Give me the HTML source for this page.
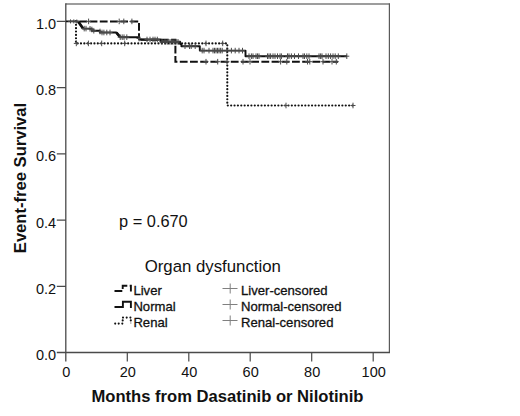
<!DOCTYPE html>
<html><head><meta charset="utf-8"><style>
html,body{margin:0;padding:0;background:#fff;}
body{width:520px;height:416px;position:relative;overflow:hidden;font-family:"Liberation Sans",sans-serif;color:#111;}
.t{position:absolute;white-space:nowrap;line-height:1;}
.yt{font-size:14.5px;width:30px;text-align:right;left:26.1px;}
.xt{font-size:14.5px;width:40px;text-align:center;top:365px;}
.lg{font-size:13.1px;-webkit-text-stroke:0.3px #111;}
</style></head><body>
<svg width="520" height="416" viewBox="0 0 520 416" style="position:absolute;left:0;top:0">
<path d="M65.8 4 H389.4" stroke="#7d7d7d" stroke-width="1.5" fill="none"/>
<path d="M389.4 3.2 V352.5" stroke="#5a5a5a" stroke-width="1.2" fill="none"/>
<path d="M65.8 3.2 V361.5 M56.8 352.5 H390" stroke="#4a4a4a" stroke-width="1.3" fill="none"/>
<path d="M56.8 286.3 H66 M56.8 220.1 H66 M56.8 153.8 H66 M56.8 87.6 H66 M56.8 21.4 H66 M127.3 352.5 V361.5 M188.8 352.5 V361.5 M250.2 352.5 V361.5 M311.7 352.5 V361.5 M373.2 352.5 V361.5" stroke="#4a4a4a" stroke-width="1.2" fill="none"/>
<path d="M76 21.4 V43.4 H227.3 V105.5 H353" stroke="#111" stroke-width="2.2" stroke-linecap="round" stroke-dasharray="0.01 3.36" fill="none"/>
<path d="M73.8 43.4 h5.0 M76.3 40.6 v5.6 M85.9 43.4 h5.0 M88.4 40.6 v5.6 M99.2 43.4 h5.0 M101.7 40.6 v5.6 M122.2 43.4 h5.0 M124.7 40.6 v5.6 M203.5 43.4 h5.0 M206.0 40.6 v5.6 M220.2 43.4 h5.0 M222.7 40.6 v5.6 M283.5 105.5 h5.0 M286.0 102.7 v5.6 M350.5 105.5 h5.0 M353.0 102.7 v5.6" stroke="#4a4a4a" stroke-width="1.0" fill="none"/>
<path d="M79.4 21.4 H139 V39.8" stroke="#111" stroke-width="2.0" stroke-dasharray="7.8 2.4" fill="none"/>
<path d="M139 39.8 H175.4 V61.7 H338" stroke="#111" stroke-width="2.0" stroke-dasharray="7.8 2.4" stroke-dashoffset="8.7" fill="none"/>
<path d="M86.1 21.4 h5.0 M88.6 18.6 v5.6 M116.7 21.4 h5.0 M119.2 18.6 v5.6 M121.3 21.4 h5.0 M123.8 18.6 v5.6 M129.4 21.4 h5.0 M131.9 18.6 v5.6 M203.5 61.7 h5.0 M206.0 58.9 v5.6 M215.2 61.7 h5.0 M217.7 58.9 v5.6 M224.5 61.7 h5.0 M227.0 58.9 v5.6 M240.5 61.7 h5.0 M243.0 58.9 v5.6 M247.5 61.7 h5.0 M250.0 58.9 v5.6 M278.1 61.7 h5.0 M280.6 58.9 v5.6 M284.3 61.7 h5.0 M286.8 58.9 v5.6 M305.0 61.7 h5.0 M307.5 58.9 v5.6 M307.3 61.7 h5.0 M309.8 58.9 v5.6 M320.5 61.7 h5.0 M323.0 58.9 v5.6 M329.5 61.7 h5.0 M332.0 58.9 v5.6 M333.8 61.7 h5.0 M336.3 58.9 v5.6" stroke="#4a4a4a" stroke-width="1.0" fill="none"/>
<path d="M66 21.4 H78.4 L83 28.6 H91.7 V30.7 H99.8 V32.5 H116.4 L120 37.2 H139.5 V39.5 H160.6 V41.8 H180.2 V44 H181.4 V46.2 H199.8 V50.6 H245.5 V56.2 H347" stroke="#111" stroke-width="1.9" stroke-linejoin="round" fill="none"/>
<path d="M78.2 21.6 L83.2 28.8 M116.4 32.6 L120.2 37.2" stroke="#111" stroke-width="2.7" fill="none"/>
<path d="M68.0 21.4 h5.0 M70.5 19.4 v4.0 M71.3 21.4 h5.0 M73.8 19.4 v4.0 M74.3 21.5 h5.0 M76.8 19.5 v4.0" stroke="#4a4a4a" stroke-width="1.0" fill="none"/>
<path d="M81.7 28.6 h5.0 M84.2 25.8 v5.6 M83.5 28.6 h5.0 M86.0 25.8 v5.6 M87.5 28.8 h5.0 M90.0 26.0 v5.6 M89.4 29.5 h5.0 M91.9 26.7 v5.6 M91.3 30.7 h5.0 M93.8 27.9 v5.6 M97.5 31.5 h5.0 M100.0 28.7 v5.6 M99.5 32.5 h5.0 M102.0 29.7 v5.6 M101.4 32.5 h5.0 M103.9 29.7 v5.6 M104.3 32.5 h5.0 M106.8 29.7 v5.6 M107.5 32.5 h5.0 M110.0 29.7 v5.6 M117.7 37.2 h5.0 M120.2 34.4 v5.6 M119.7 37.2 h5.0 M122.2 34.4 v5.6 M121.5 37.2 h5.0 M124.0 34.4 v5.6 M124.3 37.2 h5.0 M126.8 34.4 v5.6 M136.5 38.5 h5.0 M139.0 35.7 v5.6 M144.5 39.5 h5.0 M147.0 36.7 v5.6 M147.5 39.5 h5.0 M150.0 36.7 v5.6 M150.5 39.5 h5.0 M153.0 36.7 v5.6 M152.5 39.5 h5.0 M155.0 36.7 v5.6 M154.8 39.5 h5.0 M157.3 36.7 v5.6 M159.5 41.8 h5.0 M162.0 39.0 v5.6 M162.5 41.8 h5.0 M165.0 39.0 v5.6 M164.7 41.8 h5.0 M167.2 39.0 v5.6 M167.5 41.8 h5.0 M170.0 39.0 v5.6 M169.5 41.8 h5.0 M172.0 39.0 v5.6 M171.5 41.8 h5.0 M174.0 39.0 v5.6 M173.5 41.8 h5.0 M176.0 39.0 v5.6 M175.5 41.8 h5.0 M178.0 39.0 v5.6 M182.5 46.2 h5.0 M185.0 43.4 v5.6 M187.0 46.2 h5.0 M189.5 43.4 v5.6 M188.7 46.2 h5.0 M191.2 43.4 v5.6 M192.7 46.2 h5.0 M195.2 43.4 v5.6 M199.7 50.6 h5.0 M202.2 47.8 v5.6 M201.5 50.6 h5.0 M204.0 47.8 v5.6 M206.5 50.6 h5.0 M209.0 47.8 v5.6 M210.5 50.6 h5.0 M213.0 47.8 v5.6 M212.0 50.6 h5.0 M214.5 47.8 v5.6 M213.5 50.6 h5.0 M216.0 47.8 v5.6 M215.0 50.6 h5.0 M217.5 47.8 v5.6 M216.5 50.6 h5.0 M219.0 47.8 v5.6 M218.1 50.6 h5.0 M220.6 47.8 v5.6 M219.7 50.6 h5.0 M222.2 47.8 v5.6 M224.3 50.6 h5.0 M226.8 47.8 v5.6 M228.9 50.6 h5.0 M231.4 47.8 v5.6 M232.7 50.6 h5.0 M235.2 47.8 v5.6 M236.5 50.6 h5.0 M239.0 47.8 v5.6 M240.0 50.6 h5.0 M242.5 47.8 v5.6 M246.5 56.2 h5.0 M249.0 53.4 v5.6 M248.9 56.2 h5.0 M251.4 53.4 v5.6 M250.5 56.2 h5.0 M253.0 53.4 v5.6 M253.5 56.2 h5.0 M256.0 53.4 v5.6 M255.0 56.2 h5.0 M257.5 53.4 v5.6 M256.5 56.2 h5.0 M259.0 53.4 v5.6 M265.0 56.2 h5.0 M267.5 53.4 v5.6 M266.5 56.2 h5.0 M269.0 53.4 v5.6 M268.1 56.2 h5.0 M270.6 53.4 v5.6 M270.5 56.2 h5.0 M273.0 53.4 v5.6 M272.5 56.2 h5.0 M275.0 53.4 v5.6 M275.0 56.2 h5.0 M277.5 53.4 v5.6 M277.5 56.2 h5.0 M280.0 53.4 v5.6 M278.9 56.2 h5.0 M281.4 53.4 v5.6 M285.0 56.2 h5.0 M287.5 53.4 v5.6 M286.5 56.2 h5.0 M289.0 53.4 v5.6 M288.9 56.2 h5.0 M291.4 53.4 v5.6 M292.0 56.2 h5.0 M294.5 53.4 v5.6 M296.0 56.2 h5.0 M298.5 53.4 v5.6 M300.5 56.2 h5.0 M303.0 53.4 v5.6 M302.0 56.2 h5.0 M304.5 53.4 v5.6 M304.3 56.2 h5.0 M306.8 53.4 v5.6 M306.5 56.2 h5.0 M309.0 53.4 v5.6 M316.5 56.2 h5.0 M319.0 53.4 v5.6 M318.1 56.2 h5.0 M320.6 53.4 v5.6 M319.5 56.2 h5.0 M322.0 53.4 v5.6 M323.5 56.2 h5.0 M326.0 53.4 v5.6 M325.8 56.2 h5.0 M328.3 53.4 v5.6 M328.1 56.2 h5.0 M330.6 53.4 v5.6 M330.5 56.2 h5.0 M333.0 53.4 v5.6 M332.7 56.2 h5.0 M335.2 53.4 v5.6 M335.8 56.2 h5.0 M338.3 53.4 v5.6 M344.3 56.2 h5.0 M346.8 53.4 v5.6" stroke="#4a4a4a" stroke-width="1.0" fill="none"/>
<path d="M114.5 291 H122.7 V285.8 H130.9 V291.6" stroke="#111" stroke-width="1.9" stroke-dasharray="7.8 2.4" fill="none"/>
<path d="M114.5 307 H122.9 V301.8 H130.9 V308" stroke="#111" stroke-width="1.9" fill="none"/>
<path d="M115.2 323.6 h0.01 M118.7 323.6 h0.01 M122.3 323.6 h0.01 M122.7 320.4 h0.01 M123.0 317.6 h0.01 M126.7 317.6 h0.01 M130.4 317.6 h0.01 M130.8 320.4 h0.01" stroke="#111" stroke-width="2.1" stroke-linecap="round" fill="none"/>
<path d="M130.8 323 h0.01" stroke="#999" stroke-width="1.6" stroke-linecap="round" fill="none"/>
<path d="M222.5 288.5 h15 M230.2 283.5 v10" stroke="#808080" stroke-width="1" fill="none"/>
<path d="M222.5 304.5 h15 M230.2 299.5 v10" stroke="#808080" stroke-width="1" fill="none"/>
<path d="M222.5 320.5 h15 M230.2 315.5 v10" stroke="#808080" stroke-width="1" fill="none"/>
</svg>
<div class="t yt" style="top:16.8px">1.0</div>
<div class="t yt" style="top:83.0px">0.8</div>
<div class="t yt" style="top:149.2px">0.6</div>
<div class="t yt" style="top:215.5px">0.4</div>
<div class="t yt" style="top:281.7px">0.2</div>
<div class="t yt" style="top:348.0px">0.0</div>
<div class="t xt" style="left:46.3px">0</div>
<div class="t xt" style="left:107.8px">20</div>
<div class="t xt" style="left:169.3px">40</div>
<div class="t xt" style="left:230.7px">60</div>
<div class="t xt" style="left:292.2px">80</div>
<div class="t xt" style="left:353.7px">100</div>
<div class="t" style="left:91.5px;top:388.8px;font-size:16.6px;font-weight:bold">Months from Dasatinib or Nilotinib</div>
<div class="t" style="left:21.2px;top:178.4px;font-size:16.6px;font-weight:bold;transform:translate(-50%,-50%) rotate(-90deg);">Event-free Survival</div>
<div class="t" style="left:119.1px;top:212.5px;font-size:16.35px">p = 0.670</div>
<div class="t" style="left:144.7px;top:259.1px;font-size:16.8px">Organ dysfunction</div>
<div class="t lg" style="left:133.4px;top:283.6px">Liver</div>
<div class="t lg" style="left:133.4px;top:299.6px">Normal</div>
<div class="t lg" style="left:133.4px;top:315.6px">Renal</div>
<div class="t lg" style="left:241px;top:283.6px">Liver-censored</div>
<div class="t lg" style="left:241px;top:299.6px">Normal-censored</div>
<div class="t lg" style="left:241px;top:315.6px">Renal-censored</div>
</body></html>
